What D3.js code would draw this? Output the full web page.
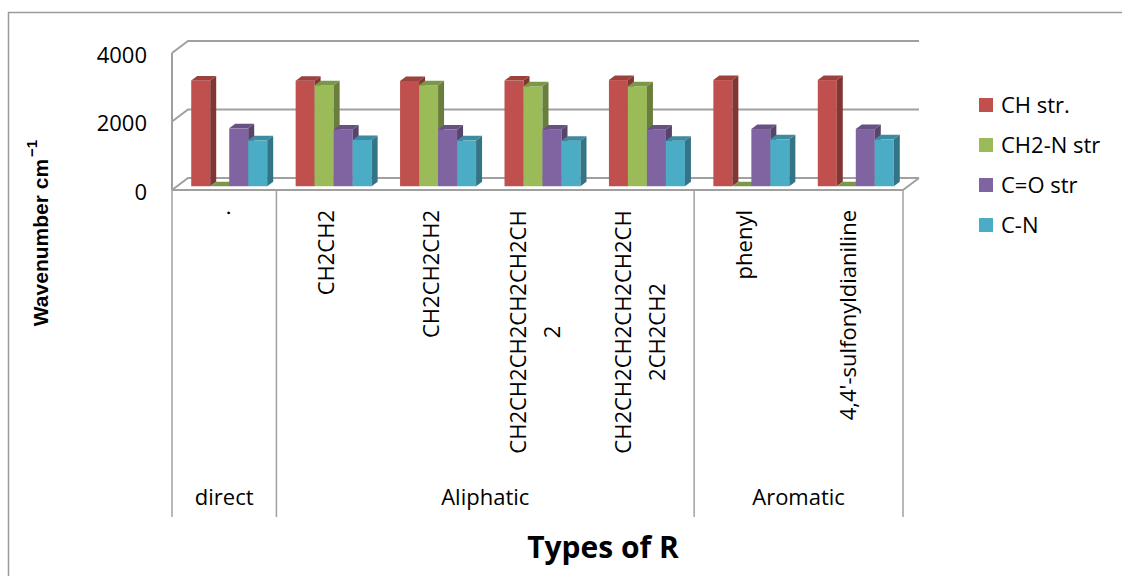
<!DOCTYPE html>
<html>
<head>
<meta charset="utf-8">
<script src="https://cdn.jsdelivr.net/npm/d3@7"></script>
<style>
  body { margin: 0; background: #fff; }
  text { font-family: "Open Sans", sans-serif; fill: #000; }
</style>
</head>
<body>
<svg id="chart" width="1122" height="576"></svg>
<script>
// Category labels (already broken into the lines shown under each column)
const categoryLines = [
  ["."],
  ["CH2CH2"],
  ["CH2CH2CH2"],
  ["CH2CH2CH2CH2CH2CH", "2"],
  ["CH2CH2CH2CH2CH2CH", "2CH2CH2"],
  ["phenyl"],
  ["4,4'-sulfonyldianiline"]
];
const groupNames = ["direct", "Aliphatic", "Aromatic"];
const groupSpans = [1, 4, 2];

// IR band positions (cm-1) for each R type
const seriesNames = ["CH str.", "CH2-N str", "C=O str", "C-N"];
const seriesColors = ["#C0504D", "#9BBB59", "#8064A2", "#4BACC6"];
const chStr   = [3090, 3080, 3075, 3085, 3100, 3100, 3100];
const ch2nStr = [0, 2950, 2950, 2920, 2920, 0, 0];
const coStr   = [1690, 1660, 1655, 1660, 1660, 1670, 1670];
const cnStr   = [1340, 1350, 1340, 1330, 1330, 1370, 1370];
const seriesValues = [chStr, ch2nStr, coStr, cnStr];

const yTicks = [0, 2000, 4000];

const svg = d3.select("#chart");

// ---- layout ----
const floorLeft = 172, floorRight = 903, floorFront = 190;
const wallDX = 16, wallDY = -12;          // depth of the floor / side wall
const barDX = 6, barDY = -4.5;            // depth of each column
const barShiftX = 5, barShiftY = -3.75;   // columns sit mid-way into the floor
const groupWidth = 76;
const gridColor = "#a0a0a0";

const x = d3.scaleBand()
  .domain(d3.range(categoryLines.length))
  .range([floorLeft, floorRight]);
const xs = d3.scaleBand()
  .domain(d3.range(seriesNames.length))
  .range([0, groupWidth]);
const y = d3.scaleLinear().domain([0, 4000]).range([floorFront, floorFront - 137]);

// outer frame
svg.append("path")
  .attr("d", "M8.5,576 L8.5,12.5 L1122,12.5")
  .attr("fill", "none").attr("stroke", "#9a9a9a").attr("stroke-width", 1.5);

// back wall gridlines + side wall diagonals
const grid = svg.append("g").attr("stroke", gridColor).attr("stroke-width", 2).attr("fill", "none");
yTicks.forEach(v => {
  const yf = y(v), yb = y(v) + wallDY;
  grid.append("path")
    .attr("d", `M${floorLeft},${yf} L${floorLeft + wallDX},${yb} L${floorRight + wallDX},${yb}`);
});
// front floor edge and right floor edge
grid.append("path")
  .attr("d", `M${floorLeft},${y(0)} L${floorRight},${y(0)} L${floorRight + wallDX},${y(0) + wallDY}`);
// left wall front edge
grid.append("line")
  .attr("x1", floorLeft).attr("x2", floorLeft)
  .attr("y1", y(4000)).attr("y2", y(0));

// category / group dividers below the floor
const divY2 = 517;
const dividers = svg.append("g").attr("stroke", gridColor).attr("stroke-width", 1.5);
let acc = 0;
const boundaries = [0];
groupSpans.forEach(s => { acc += s; boundaries.push(acc); });
boundaries.forEach(b => {
  const bx = b < categoryLines.length ? x(b) : floorRight;
  dividers.append("line")
    .attr("x1", bx).attr("x2", bx)
    .attr("y1", y(0)).attr("y2", divY2);
});

// y axis labels
const yAxis = d3.axisLeft(y).tickValues(yTicks).tickSize(0).tickPadding(0).tickFormat(d3.format("d"));
const yAxisG = svg.append("g").attr("transform", "translate(147,2)").call(yAxis);
yAxisG.select(".domain").remove();
yAxisG.selectAll("text")
  .attr("font-family", "Open Sans, sans-serif")
  .attr("font-size", 22)
  .attr("fill", "#000");

// columns, drawn left to right so each one hides its neighbour's side face
const bars = svg.append("g");
categoryLines.forEach((_, ci) => {
  const gx = x(ci) + (x.bandwidth() - groupWidth) / 2 + barShiftX;
  seriesNames.forEach((_, si) => {
    const v = seriesValues[si][ci];
    const c = d3.rgb(seriesColors[si]);
    const bx = gx + xs(si), w = xs.bandwidth();
    const bottom = y(0) + barShiftY, top = y(v) + barShiftY;
    const g = bars.append("g");
    if (v > 0) {
      g.append("rect")
        .attr("x", bx).attr("y", top)
        .attr("width", w).attr("height", bottom - top)
        .attr("fill", c.formatHex());
      g.append("path")
        .attr("d", `M${bx + w},${top} L${bx + w + barDX},${top + barDY} L${bx + w + barDX},${bottom + barDY} L${bx + w},${bottom}Z`)
        .attr("fill", c.darker(1.1).formatHex());
    }
    g.append("path")
      .attr("d", `M${bx},${top} L${bx + barDX},${top + barDY} L${bx + w + barDX},${top + barDY} L${bx + w},${top}Z`)
      .attr("fill", c.darker(0.6).formatHex());
  });
});

// rotated category labels: one line hangs from the top of the label row,
// wrapped labels are centred as a block
const lineStep = 34;
const labelTop = 210, blockCenterY = 332;
categoryLines.forEach((lines, ci) => {
  const cx = x(ci) + x.bandwidth() / 2 - 2;
  const single = lines.length === 1;
  const t = svg.append("text")
    .attr("transform", single
      ? `translate(${cx},${labelTop}) rotate(-90)`
      : `translate(${cx},${blockCenterY}) rotate(-90)`)
    .attr("text-anchor", single ? "end" : "middle")
    .attr("font-size", 22);
  lines.forEach((ln, li) => {
    t.append("tspan")
      .attr("x", 0)
      .attr("y", (li - (lines.length - 1) / 2) * lineStep)
      .attr("dy", "0.35em")
      .text(ln);
  });
});

// group labels
let start = 0;
groupNames.forEach((name, gi) => {
  const x0 = x(start);
  const x1 = start + groupSpans[gi] < categoryLines.length ? x(start + groupSpans[gi]) : floorRight;
  svg.append("text")
    .attr("x", (x0 + x1) / 2).attr("y", 505)
    .attr("text-anchor", "middle")
    .attr("font-size", 22)
    .text(name);
  start += groupSpans[gi];
});

// axis titles
svg.append("text")
  .attr("x", 603).attr("y", 558)
  .attr("text-anchor", "middle")
  .attr("font-size", 30).attr("font-weight", "bold")
  .text("Types of R");

const yt = svg.append("text")
  .attr("transform", "translate(48,233) rotate(-90)")
  .attr("text-anchor", "middle")
  .style("font-family", "'Liberation Sans', Arial, sans-serif")
  .attr("font-size", 21).attr("font-weight", "bold");
yt.append("tspan").text("Wavenumber cm");
yt.append("tspan").attr("font-size", 15).attr("dx", 2).attr("dy", "-0.75em").text("\u22121");

// legend
const legend = svg.append("g");
const legendRows = [105, 145, 185, 225];
seriesNames.forEach((name, si) => {
  const ly = legendRows[si];
  legend.append("rect")
    .attr("x", 979).attr("y", ly - 7)
    .attr("width", 14).attr("height", 14)
    .attr("fill", seriesColors[si]);
  legend.append("text")
    .attr("x", 1001).attr("y", ly)
    .attr("dy", "0.35em")
    .attr("font-size", 22)
    .text(name);
});
</script>
</body>
</html>
